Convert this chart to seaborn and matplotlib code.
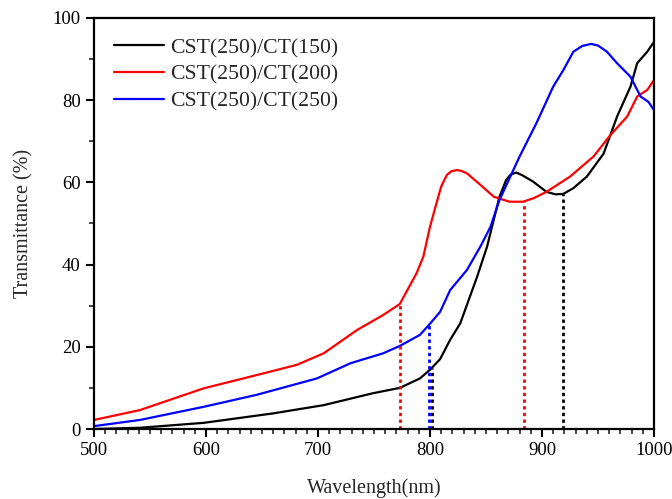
import matplotlib
matplotlib.use("Agg")
import matplotlib.pyplot as plt
from matplotlib.ticker import MultipleLocator
import numpy as np
import pandas as pd
import seaborn as sns

# data
labels = ["CST(250)/CT(150)", "CST(250)/CT(200)", "CST(250)/CT(250)"]
colors = ["black", "red", "blue"]

black_x = [500, 541, 598, 660, 705, 749, 773, 791, 800, 809, 818, 827, 842, 851,
           862, 868, 872, 877, 882, 892, 904, 912, 919, 928, 940, 955, 967, 979, 985,
           994, 1000]
black_y = [0, 0.3, 1.5, 3.8, 5.8, 8.7, 10, 12.3, 14.4, 17, 21.7, 25.7, 37, 44.4,
           56.5, 60.6, 61.9, 62.4, 61.8, 60.2, 57.7, 57.1, 57.2, 58.6, 61.4, 67, 76,
           83.3, 89, 91.8, 94.2]

red_x = [500, 541, 598, 645, 681, 705, 735, 758, 773, 788, 794, 800, 804.5, 810,
         815, 819, 824, 828, 833, 845, 857, 871, 883, 893, 904, 925, 946, 961, 976,
         985, 994, 1000]
red_y = [2.2, 4.6, 9.9, 13.1, 15.6, 18.4, 24.1, 27.7, 30.4, 37.9, 41.9, 49.2, 53.7, 59,
         61.8, 62.7, 63, 62.8, 62.2, 59.4, 56.5, 55.3, 55.3, 56.2, 57.7, 61.4, 66.3,
         71.5, 76, 80.9, 82.5, 84.9]

blue_x = [500, 541, 598, 645, 699, 729, 758, 773, 791, 799, 809, 818, 833, 845, 854,
          862, 880, 895, 910, 919, 928, 936, 944, 950, 958, 967, 979, 988, 995, 1000]
blue_y = [0.7, 2.2, 5.4, 8.3, 12.3, 16, 18.4, 20.2, 22.9, 25.3, 28.5, 33.8, 38.7, 44.4,
          49.2, 55.7, 66.3, 74.4, 83.3, 87.3, 91.8, 93.2, 93.7, 93.3, 91.8, 89, 85.7,
          80.9, 79.6, 77.6]

# dotted drop lines
drop_x = [773, 799, 802, 884, 919]
drop_top = [30.4, 25.3, 14.8, 55.3, 57.2]
drop_colors = ["red", "blue", "black", "red", "black"]

df = pd.concat([
    pd.DataFrame({"wl": black_x, "T": black_y, "sample": labels[0]}),
    pd.DataFrame({"wl": red_x, "T": red_y, "sample": labels[1]}),
    pd.DataFrame({"wl": blue_x, "T": blue_y, "sample": labels[2]}),
])

sns.set_style("ticks")
plt.rcParams["font.family"] = ["Liberation Serif", "DejaVu Serif"]

fig = plt.figure(figsize=(6.72, 4.99), dpi=100)
ax = fig.add_axes([94 / 672, 1 - 429 / 499, 560 / 672, 411 / 499])

sns.lineplot(data=df, x="wl", y="T", hue="sample", hue_order=labels,
             palette=colors, linewidth=1.6, sort=False, estimator=None, ax=ax)

for x, top, c in zip(drop_x, drop_top, drop_colors):
    ax.vlines(x, 0, top, colors=c, linestyles=(0, (1.2, 1.2)), linewidth=2)

ax.set_xlim(500, 1000)
ax.set_ylim(0, 100)
ax.xaxis.set_major_locator(MultipleLocator(100))
ax.xaxis.set_minor_locator(MultipleLocator(10))
ax.yaxis.set_major_locator(MultipleLocator(20))
ax.yaxis.set_minor_locator(MultipleLocator(10))
ax.tick_params(which="major", direction="out", length=6, width=1.5, labelsize=13.5,
               top=False, right=False, colors="black")
ax.tick_params(which="minor", direction="out", length=3.5, width=1.2,
               top=False, right=False)
for s in ax.spines.values():
    s.set_linewidth(1.6)
    s.set_color("black")

ax.set_xlabel("Wavelength(nm)", fontsize=14.5, labelpad=14)
ax.set_ylabel("Transmittance (%)", fontsize=14.5, labelpad=14)

ax.legend(loc="upper left", frameon=False, fontsize=15.7, handlelength=2.3,
          handletextpad=0.3, labelspacing=0.3, borderaxespad=0.0,
          bbox_to_anchor=(0.02, 0.973))

fig.savefig("out.png", dpi=100)
